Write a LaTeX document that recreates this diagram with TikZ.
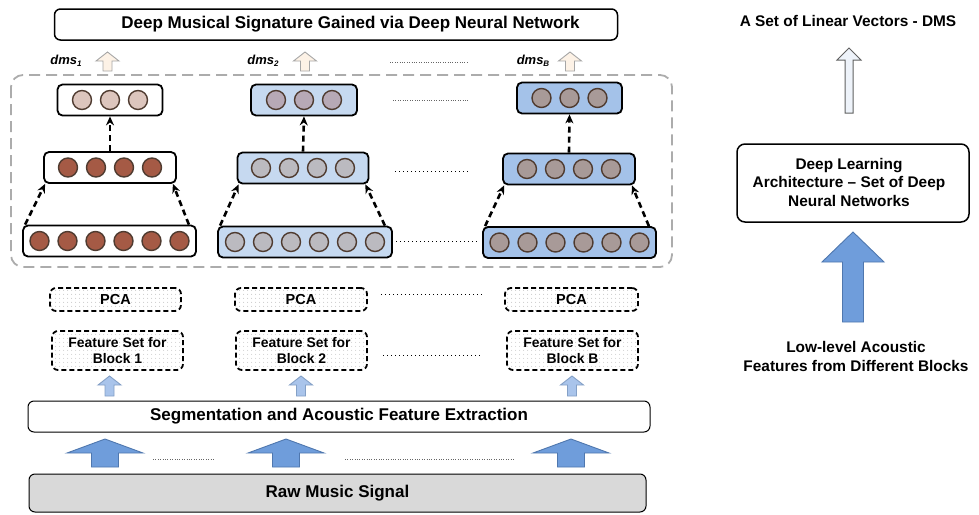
\documentclass[tikz,border=0pt]{standalone}
\usepackage{fontspec}
\setmainfont{Liberation Sans}
\usetikzlibrary{arrows.meta,patterns.meta}
\definecolor{brownN}{HTML}{A55A45}
\definecolor{pinkN}{HTML}{DCC5BD}
\definecolor{grayN}{HTML}{BBBAC0}
\definecolor{mauveN}{HTML}{B7A9B6}
\definecolor{darkN}{HTML}{A89A98}
\definecolor{ringN}{HTML}{4F3B30}
\definecolor{blueA}{HTML}{C6D9F0}
\definecolor{blueB}{HTML}{A4C2E9}
\definecolor{bigblue}{HTML}{6F9DDB}
\definecolor{bigblueline}{HTML}{4F77AE}
\definecolor{smallblue}{HTML}{A9C4EB}
\definecolor{beige}{HTML}{FDF2E6}
\definecolor{paleblue}{HTML}{EEF3FA}
\definecolor{rawgray}{HTML}{D9D9D9}
\newcommand{\myuparrow}[7]{%
  \draw[#1] ({#2-#6},{#4}) -- ({#2},{#3}) -- ({#2+#6},{#4}) -- ({#2+#7},{#4}) --
    ({#2+#7},{#5}) -- ({#2-#7},{#5}) -- ({#2-#7},{#4}) -- cycle;}
\newcommand{\mylayer}[7]{%
  \node[layerbox, fill=#6, minimum width=#4pt] (#1) at (#2,#3) {};
  \foreach \i in {1,...,#5} {\node[neuron, fill=#7] (#1-\i) at ({#2+(\i-(#5+1)/2)*28},#3) {};}}
\tikzset{
  every node/.style={font=\bfseries},
  bigtext/.style={font=\bfseries\fontsize{17}{20}\selectfont},
  sidetext/.style={font=\bfseries\fontsize{15.4}{18.5}\selectfont, align=center},
  layerbox/.style={draw, line width=1.8pt, rounded corners=5pt, minimum height=31pt, inner sep=0pt},
  neuron/.style={circle, draw=ringN, line width=1.4pt, minimum size=19pt, inner sep=0pt},
  dnarrow/.style={line width=2.6pt, dash pattern=on 6pt off 4pt, -{Stealth[length=9pt,width=8pt]}},
  dotbox/.style={draw, line width=1.8pt, dash pattern=on 5pt off 3pt, rounded corners=6pt,
    preaction={fill=white}, pattern={Dots[distance=4pt, radius=0.55pt]}, pattern color=gray!55,
    inner sep=0pt, align=center},
  dotsep/.style={line width=1pt, dash pattern=on 1pt off 3pt},
  finedots/.style={line width=0.8pt, dash pattern=on 0.8pt off 1.6pt, draw=gray!80!black},
  dmsarrow/.style={draw=gray!70, fill=beige, line width=0.9pt},
  fsarrow/.style={draw=bigblueline!70, fill=smallblue, line width=0.9pt},
  bigarrow/.style={draw=bigblueline, fill=bigblue, line width=0.9pt},
  dmslabel/.style={font=\bfseries\itshape\fontsize{13}{15}\selectfont}
}
\begin{document}
\begin{tikzpicture}[x=1pt,y=-1pt]
\useasboundingbox (0,0) rectangle (979,514);

% title
\node[draw, line width=1.5pt, rounded corners=6pt, minimum width=563pt, minimum height=31pt] (title) at (336,24.5) {};
\node[bigtext] (titletext) at (350.5,24.5) {Deep Musical Signature Gained via Deep Neural Network};

% dms labels and arrows
\node[dmslabel] (dms1) at (66,61) {dms\raisebox{-1.5pt}{\fontsize{8}{9}\selectfont 1}};
\node[dmslabel] (dms2) at (263,61) {dms\raisebox{-1.5pt}{\fontsize{8}{9}\selectfont 2}};
\node[dmslabel] (dmsB) at (533,61) {dms\raisebox{-1.5pt}{\fontsize{8}{9}\selectfont B}};
\myuparrow{dmsarrow}{107.5}{52}{61}{71}{11.5}{4.5}
\myuparrow{dmsarrow}{305}{52}{61}{71}{11.5}{4.5}
\myuparrow{dmsarrow}{570}{52}{61}{71}{11.5}{4.5}
\draw[finedots] (390,62) -- (467,62);

% dashed frame
\draw[gray!65, line width=1.8pt, dash pattern=on 11pt off 6pt, rounded corners=12pt] (11,75) rectangle (672,267);

% network 1
\mylayer{n1t}{110}{100}{105}{3}{white}{pinkN}
\mylayer{n1m}{110}{167.5}{132}{4}{white}{brownN}
\mylayer{n1b}{109.5}{241}{173}{6}{white}{brownN}
% network 2
\mylayer{n2t}{304}{100}{106}{3}{blueA}{mauveN}
\mylayer{n2m}{303}{168}{131}{4}{blueA}{grayN}
\mylayer{n2b}{305}{242}{174}{6}{blueA}{grayN}
% network B
\mylayer{nBt}{569.5}{98}{105}{3}{blueB}{darkN}
\mylayer{nBm}{569}{169}{132}{4}{blueB}{darkN}
\mylayer{nBb}{569.5}{242.5}{173}{6}{blueB}{darkN}

\foreach \n in {n1,n2,nB} {
  \draw[dnarrow] ([xshift=3pt]\n b.north west) -- ([xshift=2pt]\n m.south west);
  \draw[dnarrow] ([xshift=-8pt]\n b.north east) -- ([xshift=-4pt]\n m.south east);
  \draw[dnarrow] (\n m.north) -- (\n t.south);
}

\draw[finedots] (393,100) -- (468,100);
\draw[dotsep] (395,171) -- (471,171);
\draw[dotsep] (396,241) -- (479,241);

% PCA
\node[dotbox, minimum width=131pt, minimum height=23pt, font=\bfseries\fontsize{14.5}{16}\selectfont] (pca1) at (115.5,299.5) {PCA};
\node[dotbox, minimum width=132pt, minimum height=23pt, font=\bfseries\fontsize{14.5}{16}\selectfont] (pca2) at (301,299.5) {PCA};
\node[dotbox, minimum width=133pt, minimum height=23pt, font=\bfseries\fontsize{14.5}{16}\selectfont] (pcaB) at (571.5,299.5) {PCA};
\draw[dotsep] (381,294) -- (482,294);

% feature sets
\node[dotbox, minimum width=131pt, minimum height=39pt, font=\bfseries\fontsize{13.9}{15.7}\selectfont] (fs1) at (117.5,350.5) {Feature Set for\\Block 1};
\node[dotbox, minimum width=131pt, minimum height=39pt, font=\bfseries\fontsize{13.9}{15.7}\selectfont] (fs2) at (301.5,350.5) {Feature Set for\\Block 2};
\node[dotbox, minimum width=131pt, minimum height=39pt, font=\bfseries\fontsize{13.9}{15.7}\selectfont] (fsB) at (572.5,350.5) {Feature Set for\\Block B};
\draw[dotsep] (383,355) -- (483,355);

\myuparrow{fsarrow}{109.5}{376}{385}{396}{11.5}{4.5}
\myuparrow{fsarrow}{301}{376}{385}{396}{11.5}{4.5}
\myuparrow{fsarrow}{572}{376}{385}{396}{11.5}{4.5}

% segmentation
\node[draw, line width=1pt, rounded corners=6pt, minimum width=622pt, minimum height=31pt, bigtext] (seg) at (339,416.5) {Segmentation and Acoustic Feature Extraction};

\myuparrow{bigarrow}{105}{439}{453}{467}{38}{13.5}
\myuparrow{bigarrow}{286}{439}{453}{467}{38}{13.5}
\myuparrow{bigarrow}{571}{439}{453}{467}{38}{13.5}
\draw[finedots] (153,459) -- (215,459);
\draw[finedots] (345,459) -- (515,459);

% raw
\node[draw, fill=rawgray, line width=1pt, rounded corners=6pt, minimum width=617pt, minimum height=38pt, bigtext] (raw) at (337.5,493) {Raw Music Signal};

% right side
\node[sidetext] (dmsset) at (848,21) {A Set of Linear Vectors - DMS};
\myuparrow{draw=gray!75!black, fill=paleblue, line width=1pt}{849}{48}{60}{113}{12}{4}
\node[draw, line width=1.5pt, rounded corners=8pt, minimum width=232pt, minimum height=78pt] (dlbox) at (853,183) {};
\node[sidetext] (dltext) at (849,182) {Deep Learning\\Architecture -- Set of Deep\\Neural Networks};
\myuparrow{bigarrow}{853}{232}{262}{322}{31}{10.5}
\node[sidetext] (low) at (856,356.5) {Low-level Acoustic\\Features from Different Blocks};
\end{tikzpicture}
\end{document}
